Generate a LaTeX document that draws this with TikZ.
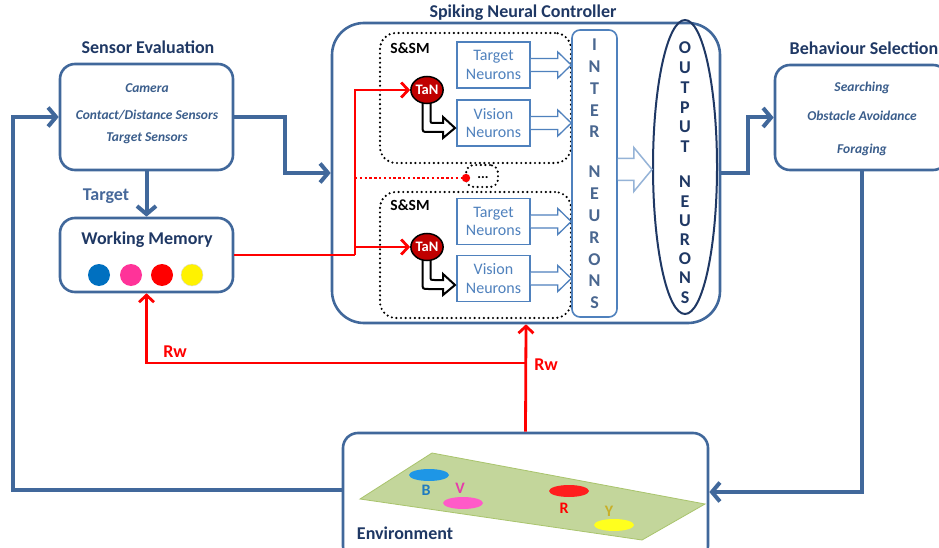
\documentclass[tikz,border=0pt]{standalone}
\usepackage{fontspec}
\setmainfont{Carlito}
\usetikzlibrary{arrows.meta,shapes.geometric,calc}

\definecolor{linkblue}{HTML}{41689B}
\definecolor{navy}{HTML}{1F3864}
\definecolor{itemblue}{HTML}{3B5E8C}
\definecolor{cellblue}{HTML}{4F81BD}
\definecolor{interink}{HTML}{4A6790}
\definecolor{arrowpale}{HTML}{95B3D7}
\definecolor{tanred}{HTML}{C00000}
\definecolor{rwred}{HTML}{FF0000}
\definecolor{field}{HTML}{C3D69B}
\definecolor{fieldedge}{HTML}{A9C46C}

\begin{document}
\begin{tikzpicture}[x=1pt,y=-1pt,
  panel/.style={draw=linkblue, line width=2.6pt, rounded corners=15pt, fill=white, inner sep=0pt},
  title/.style={font=\fontsize{18}{20}\selectfont\bfseries, text=navy, inner sep=0pt},
  item/.style={font=\fontsize{13.5}{15}\selectfont\bfseries\itshape, text=itemblue, inner sep=0pt},
  flow/.style={draw=linkblue, line width=4pt, -{Straight Barb[length=8pt,width=19pt]}},
  reward/.style={draw=rwred, line width=2.8pt, -{Straight Barb[length=7pt,width=15pt]}},
  cell/.style={draw=cellblue, line width=1.6pt, fill=white, minimum width=73pt, minimum height=46pt,
    align=center, text=cellblue, font=\fontsize{16}{18.5}\selectfont, inner sep=0pt},
  module/.style={draw=black, line width=2.4pt, dash pattern=on 0pt off 4.6pt, line cap=round,
    rounded corners=16pt, inner sep=0pt},
  tan/.style={ellipse, draw=black, line width=1.5pt, fill=tanred, minimum width=32pt, minimum height=27pt,
    inner sep=0pt, text=white, font=\fontsize{14.5}{15}\selectfont\bfseries},
  hollow/.style={draw=cellblue, line width=1.3pt, fill=white, line join=miter},
  bentarrow/.style={draw=black, line width=2pt, fill=white, line join=miter},
  letter/.style={font=\fontsize{18}{18}\selectfont\bfseries, inner sep=0pt},
  dot/.style={circle, minimum size=22pt, inner sep=0pt},
  spot/.style={ellipse, minimum width=40pt, minimum height=12pt, inner sep=0pt},
  spotlabel/.style={font=\fontsize{16}{16}\selectfont\bfseries, inner sep=0pt},
  tag/.style={font=\fontsize{15.5}{15.5}\selectfont\bfseries, inner sep=0pt},
]
\useasboundingbox (0,0) rectangle (939,548);
\clip (0,0) rectangle (939,548);

% ---------- sensor evaluation ----------
\node[title] (sensorT) at (148,47) {Sensor Evaluation};
\node[panel, minimum width=173pt, minimum height=106pt] (sensor) at (146.5,117) {};
\node[item] (cam) at (147,88) {Camera};
\node[item] (cds) at (147,115) {Contact/Distance Sensors};
\node[item] (tgs) at (147,138) {Target Sensors};

% ---------- working memory ----------
\node[panel, minimum width=173pt, minimum height=74pt] (wm) at (146.5,255) {};
\node[title] (wmT) at (147,240) {Working Memory};
\node[dot, fill={rgb,255:red,0;green,112;blue,192}] (wmB) at (99,275) {};
\node[dot, fill={rgb,255:red,255;green,51;blue,153}] (wmV) at (131,275) {};
\node[dot, fill=rwred] (wmR) at (162,275) {};
\node[dot, fill=yellow, draw=black!15, line width=0.4pt] (wmY) at (192,275) {};

% ---------- behaviour selection ----------
\node[title] (behT) at (864,48) {Behaviour Selection};
\node[panel, minimum width=173pt, minimum height=105pt] (beh) at (861.5,117.5) {};
\node[item] (srch) at (862,88) {Searching};
\node[item] (obst) at (862,116) {Obstacle Avoidance};
\node[item] (forg) at (862,150) {Foraging};

% ---------- environment ----------
\node[panel, minimum width=365pt, minimum height=128pt] (env) at (525.5,497) {};
\filldraw[fill=field, draw=fieldedge, line width=0.8pt]
  (360,499) -- (432,453) -- (705,504) -- (642,540) -- cycle;
\node[spot, fill={rgb,255:red,30;green,150;blue,230}] (spB) at (429,475) {};
\node[spot, fill={rgb,255:red,255;green,90;blue,200}] (spV) at (463,503) {};
\node[spot, fill={rgb,255:red,255;green,30;blue,30}] (spR) at (569,491) {};
\node[spot, fill={rgb,255:red,255;green,255;blue,30}] (spY) at (614,525) {};
\node[spotlabel, text={rgb,255:red,31;green,123;blue,192}] (lbB) at (426,490) {B};
\node[spotlabel, text={rgb,255:red,230;green,60;blue,170}] (lbV) at (460,488) {V};
\node[spotlabel, text=rwred] (lbR) at (564,508) {R};
\node[spotlabel, text={rgb,255:red,200;green,176;blue,40}] (lbY) at (609,511) {Y};
\node[title] (envT) at (405,533) {Environment};

% ---------- spiking neural controller ----------
\node[title] (sncT) at (523,13) {Spiking Neural Controller};
\node[panel, rounded corners=32pt, minimum width=388pt, minimum height=300pt] (snc) at (526,173) {};

\node[module, minimum width=191pt, minimum height=130pt] (mod1) at (475.5,98) {};
\node[module, minimum width=191pt, minimum height=126pt] (mod2) at (475.5,255) {};
\node[module, rounded corners=8pt, minimum width=32pt, minimum height=22pt] (more) at (482,176) {};
\node[tag] (sm1) at (410,48) {S\&SM};
\node[tag] (sm2) at (410,205) {S\&SM};

\node[cell] (t1) at (493.5,65) {Target\\Neurons};
\node[cell] (v1) at (493.5,123) {Vision\\Neurons};
\node[cell] (t2) at (493.5,221.5) {Target\\Neurons};
\node[cell] (v2) at (493.5,278.5) {Vision\\Neurons};

\node[draw=cellblue, line width=1.6pt, rounded corners=8pt, fill=white,
      minimum width=45pt, minimum height=287pt, inner sep=0pt] (inter) at (594.5,173.5) {};
\foreach \c [count=\i] in {I,N,T,E,R}
  \node[letter, text=interink] (ia\i) at (594.5,{45+21.75*(\i-1)}) {\c};
\foreach \c [count=\i] in {N,E,U,R,O,N,S}
  \node[letter, text=interink] (ib\i) at (594.5,{172+21.8*(\i-1)}) {\c};

\node[ellipse, draw=navy, line width=2pt, minimum width=64pt, minimum height=294pt,
      inner sep=0pt] (out) at (685,167) {};
\foreach \c [count=\i] in {O,U,T,P,U,T}
  \node[letter, text=navy] (oa\i) at (685,{48+19.8*(\i-1)}) {\c};
\foreach \c [count=\i] in {N,E,U,R,O,N,S}
  \node[letter, text=navy] (ob\i) at (685,{182+19.2*(\i-1)}) {\c};

% block arrows from the neuron groups into the inter neurons
\foreach \c in {t1,v1,t2,v2}
  \filldraw[hollow] ($(\c.east)+(0,-6.5)$) -- ($(\c.east)+(27,-6.5)$) -- ($(\c.east)+(27,-13)$)
    -- (\c.east -| inter.west) -- ($(\c.east)+(27,13)$) -- ($(\c.east)+(27,6.5)$) -- ($(\c.east)+(0,6.5)$);

% inter neurons -> output neurons
\coordinate (ba) at ($(inter.east)+(0,-4)$);
\filldraw[draw=arrowpale, line width=1.5pt, fill=white, line join=miter]
  ($(ba)+(0,-11)$) -- ($(ba)+(16,-11)$) -- ($(ba)+(16,-22)$) -- (ba -| out.west)
  -- ($(ba)+(16,22)$) -- ($(ba)+(16,11)$) -- ($(ba)+(0,11)$);

% TaN cells with their bent arrows into the vision neurons
\coordinate (tc1) at (427,90);
\coordinate (tc2) at (427,247);
\foreach \t in {tc1,tc2}
  \filldraw[bentarrow, shift={(\t)}]
    (-4.5,10) -- (-4.5,36) .. controls (-4.5,42) .. (1.5,42) -- (16,42) -- (16,48) -- (28,38)
    -- (16,27) -- (16,33) -- (7.5,33) .. controls (3.5,33) .. (3.5,29) -- (3.5,10);
\node[tan] (tan1) at (tc1) {TaN};
\node[tan] (tan2) at (tc2) {TaN};

% ---------- connectors ----------
\coordinate (lx) at (13,0);
\coordinate (jx) at (285,0);
\coordinate (kx) at (748,0);
\coordinate (bx) at (355,0);
\coordinate (ry) at (0,363);
\coordinate (ely) at (0,490);
\coordinate (ery) at (0,492);

\draw[flow] (env.west |- ely) -- (ely -| lx) |- (sensor.west);
\draw[flow] (sensor.east) -- (sensor.east -| jx) |- (snc.west);
\draw[flow] (sensor.south) -- (wm.north);
\node[font=\fontsize{18}{20}\selectfont\bfseries, text={rgb,255:red,70;green,104;blue,154}, inner sep=0pt]
  (tgtL) at (106,196) {Target};
\draw[flow] (snc.east) -- (snc.east -| kx) |- (beh.west);
\draw[flow] (beh.south) |- (env.east |- ery);

\draw[reward] (env.north) -- (snc.south);
\draw[reward] (env.north |- ry) -| (wm.south);
\node[font=\fontsize{18}{20}\selectfont\bfseries, text=rwred, inner sep=0pt] (rw1) at (175,352) {Rw};
\node[font=\fontsize{18}{20}\selectfont\bfseries, text=rwred, inner sep=0pt] (rw2) at (546,365) {Rw};

\draw[draw=rwred, line width=2.8pt] (wm.east) -- (wm.east -| bx);
\draw[reward] (wm.east -| bx) |- (tan1.west);
\draw[reward] (wm.east -| bx) |- (tan2.west);
\coordinate (rd) at (466,178);
\draw[draw=rwred, line width=2.4pt, dash pattern=on 2.4pt off 2.4pt] (rd -| bx) -- (rd);
\fill[rwred] (rd) circle (4.2pt);
\node[font=\fontsize{14}{14}\selectfont\bfseries, inner sep=0pt] (ell) at (483,178) {...};

\end{tikzpicture}
\end{document}
